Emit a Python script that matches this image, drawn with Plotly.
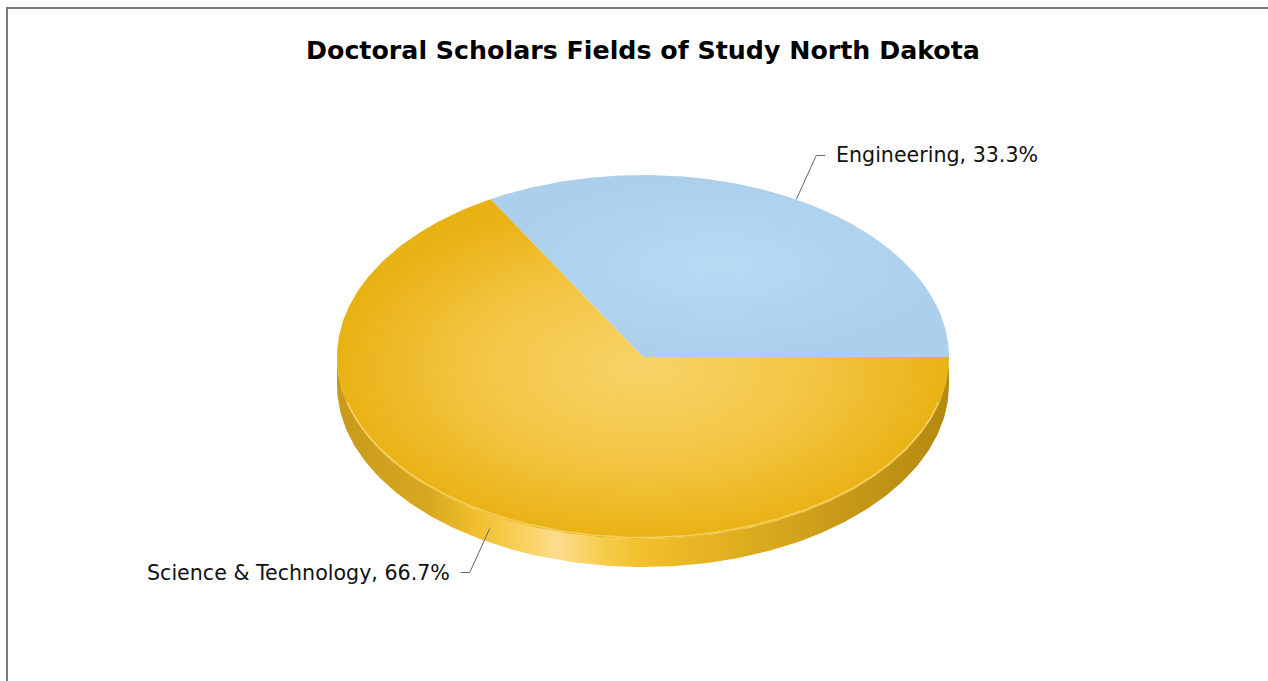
import numpy as np
import plotly.graph_objects as go

# ---- data ----
categories = ["Engineering", "Science & Technology"]
values = [33.3, 66.7]
title_text = "Doctoral Scholars Fields of Study North Dakota"

# ---- style / geometry ----
W, H = 1268, 681
CX, CY = 643, 357
RX, RY = 306, 182
DEPTH = 28
top_scales = [
    [[0, "#b9daf3"], [1, "#abcfec"]],
    [[0, "#f7d468"], [0.55, "#f3c543"], [1, "#e9b214"]],
]
side_scale = [[0, "#c79a1c"], [0.15, "#d7a81f"], [0.22, "#efbd2a"], [0.3, "#f8d15a"],
              [0.36, "#fcdd8e"], [0.44, "#f6cb48"], [0.5, "#f2c02a"], [0.65, "#e0ae20"],
              [0.82, "#c89a18"], [1, "#b38a10"]]
FONT = "DejaVu Sans, Verdana, sans-serif"


def pt(theta_deg, dy=0.0):
    t = np.radians(theta_deg)
    return CX + RX * np.cos(t), CY - RY * np.sin(t) + dy


fig = go.Figure()

total = sum(values)
angles = []
a = 0.0
for v in values:
    span = v / total * 360.0
    angles.append((a, a + span))
    a += span

# side walls (front half: 180..360 degrees)
for i, (a0, a1) in enumerate(angles):
    s0, s1 = max(a0, 180.0), min(a1, 360.0)
    if s1 <= s0:
        continue
    th = np.linspace(s0, s1, 200)
    xt, yt = pt(th)
    xb, yb = pt(th[::-1], DEPTH)
    fig.add_trace(go.Scatter(
        x=np.concatenate([xt, xb, xt[:1]]), y=np.concatenate([yt, yb, yt[:1]]),
        mode="lines", fill="toself", line=dict(width=0, color="rgba(0,0,0,0)"),
        fillgradient=dict(type="horizontal", colorscale=side_scale),
        hoverinfo="skip", showlegend=False))

# top slices
for i, (a0, a1) in enumerate(angles):
    th = np.linspace(a0, a1, 300)
    xs, ys = pt(th)
    fig.add_trace(go.Scatter(
        x=np.concatenate([[CX], xs, [CX]]), y=np.concatenate([[CY], ys, [CY]]),
        mode="lines", fill="toself", line=dict(width=0, color="rgba(0,0,0,0)"),
        fillgradient=dict(type="radial", colorscale=top_scales[i]),
        hoverinfo="skip", showlegend=False, name=categories[i]))

# light rim along front edge
th = np.linspace(195, 345, 200)
xr, yr = pt(th, -1.5)
fig.add_trace(go.Scatter(x=xr, y=yr, mode="lines",
                         line=dict(width=1.5, color="rgba(255,236,170,0.5)"),
                         hoverinfo="skip", showlegend=False))

# labels with leader lines
annotations = []
for i, (a0, a1) in enumerate(angles):
    mid = (a0 + a1) / 2.0
    front = np.sin(np.radians(mid)) < 0
    x0, y0 = pt(mid, DEPTH / 2.0 if front else 0.0)
    sx = 1 if np.cos(np.radians(mid)) >= 0 else -1
    sy = -1 if np.sin(np.radians(mid)) >= 0 else 1
    x1, y1 = x0 + sx * 20, y0 + sy * 44
    x2 = x1 + sx * 9
    fig.add_trace(go.Scatter(x=[x0, x1, x2], y=[y0, y1, y1], mode="lines",
                             line=dict(width=1, color="#666666"),
                             hoverinfo="skip", showlegend=False))
    pct = values[i] / total * 100
    annotations.append(dict(
        x=x2 + sx * 9, y=y1, xref="x", yref="y",
        text=f"{categories[i]}, {pct:.1f}%", showarrow=False,
        xanchor="left" if sx > 0 else "right", yanchor="middle",
        font=dict(family=FONT, size=20.6, color="#111111")))

annotations.append(dict(
    x=643, y=50, xref="x", yref="y", text=f"<b>{title_text}</b>", showarrow=False,
    xanchor="center", yanchor="middle",
    font=dict(family=FONT, size=25.3, color="#000000")))

fig.update_layout(
    width=W, height=H, autosize=False,
    margin=dict(l=0, r=0, t=0, b=0),
    paper_bgcolor="white", plot_bgcolor="white",
    xaxis=dict(range=[0, W], visible=False, fixedrange=True),
    yaxis=dict(range=[H, 0], visible=False, fixedrange=True),
    annotations=annotations,
    shapes=[dict(type="rect", xref="x", yref="y", x0=7, y0=8, x1=W + 20, y1=H + 20,
                 line=dict(color="#7a7a7a", width=2), fillcolor="rgba(0,0,0,0)")],
    showlegend=False,
)

fig.write_html("out.html", config={"displayModeBar": False},
               post_script="document.body.style.margin='0';document.body.style.overflow='hidden';")
